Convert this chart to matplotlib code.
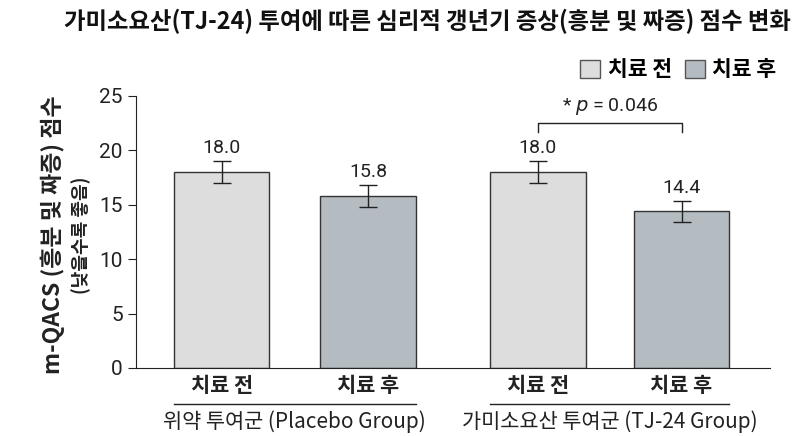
import matplotlib.pyplot as plt
from matplotlib.patches import Patch

plt.rcParams['font.family'] = ['Noto Sans CJK KR', 'DejaVu Sans']

# data
bar_labels = ['치료 전', '치료 후', '치료 전', '치료 후']
scores = [18.0, 15.8, 18.0, 14.4]
errors = [1.0, 1.0, 1.0, 0.95]
group_labels = ['위약 투여군 (Placebo Group)', '가미소요산 투여군 (TJ-24 Group)']
p_text = '* $p$ = 0.046'

positions = [0, 1.01, 2.18, 3.17]
colors = ['#dddddd', '#b4bcc2', '#dddddd', '#b4bcc2']
width = 0.66
num_font = ['Roboto', 'Noto Sans CJK KR']

fig = plt.figure(figsize=(8, 4.36), dpi=100)
ax = fig.add_axes([0.17, 0.156, 0.7925, 0.624])

ax.bar(positions, scores, width=width, color=colors, edgecolor='#333333', linewidth=1.0, zorder=2)
ax.errorbar(positions, scores, yerr=errors, fmt='none', ecolor='#222222', elinewidth=1.0,
            capsize=6.5, capthick=1.0, zorder=3)

for x, v, e in zip(positions, scores, errors):
    ax.text(x, v + e + 0.35, f'{v:.1f}', ha='center', va='bottom', fontsize=14,
            color='#222222', family=num_font)

# significance bracket
x1, x2 = positions[2], positions[3]
ax.plot([x1, x1, x2, x2], [21.7, 22.5, 22.5, 21.7], color='#222222', lw=1.0)
ax.text((x1 + x2) / 2, 23.1, p_text, ha='center', va='bottom', fontsize=14,
        color='#222222', family=num_font)

ax.set_xlim(-0.59, 3.78)
ax.set_ylim(0, 25)
ax.set_yticks([0, 5, 10, 15, 20, 25])
ax.tick_params(axis='y', labelsize=15, length=6, colors='#222222')
for t in ax.get_yticklabels():
    t.set_family(num_font)
ax.set_xticks(positions)
ax.set_xticklabels(bar_labels, fontsize=15, fontweight='bold')
ax.tick_params(axis='x', length=0, pad=5, colors='#222222')
for s in ['top', 'right']:
    ax.spines[s].set_visible(False)
for s in ['left', 'bottom']:
    ax.spines[s].set_color('#222222')

# group lines and labels
for (a, b), lab in zip([(positions[0], positions[1]), (positions[2], positions[3])], group_labels):
    xa, xb = a - width / 2, b + width / 2
    ax.plot([xa, xb], [-3.3, -3.3], color='#222222', lw=1.0, clip_on=False)
    ax.text((xa + xb) / 2, -3.85, lab, ha='center', va='top', fontsize=15, color='#222222')

fig.text(0.066, 0.461, 'm-QACS (흥분 및 짜증) 점수', rotation=90, ha='center', va='center',
         fontsize=16.5, fontweight='bold', color='#222222')
fig.text(0.101, 0.461, '(낮을수록 좋음)', rotation=90, ha='center', va='center',
         fontsize=13, fontweight='bold', color='#222222')

fig.text(0.534, 0.95, '가미소요산(TJ-24) 투여에 따른 심리적 갱년기 증상(흥분 및 짜증) 점수 변화',
         ha='center', va='center', fontsize=16.8, fontweight='bold', color='#111111')

handles = [Patch(facecolor='#dddddd', edgecolor='#555555', label='치료 전'),
           Patch(facecolor='#b4bcc2', edgecolor='#555555', label='치료 후')]
fig.legend(handles=handles, loc='center right', bbox_to_anchor=(0.994, 0.84), ncol=2,
           frameon=False, handlelength=0.93, handleheight=0.93,
           handletextpad=0.33, columnspacing=0.6,
           prop={'size': 15.5, 'weight': 'bold'})

fig.savefig('out.png', dpi=100)
